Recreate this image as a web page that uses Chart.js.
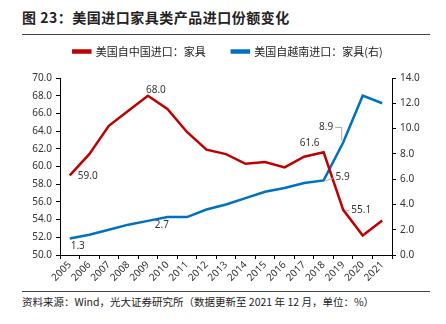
<!DOCTYPE html>
<html>
<head>
<meta charset="utf-8">
<script src="https://cdn.jsdelivr.net/npm/chart.js@4.4.0/dist/chart.umd.min.js"></script>
<style>
  body { margin: 0; width: 446px; height: 324px; background: #fff; position: relative; overflow: hidden;
         font-family: "Noto Sans CJK SC", sans-serif; color: #222; }
  #title { position: absolute; left: 22px; top: 7px; font-size: 14px; font-weight: bold; white-space: nowrap; letter-spacing: 0.5px; }
  #rule1 { position: absolute; left: 22px; top: 34px; width: 408px; border-top: 1px solid #444; }
  #wrap { position: absolute; left: 0; top: 20px; width: 446px; height: 270px; }
  #rule2 { position: absolute; left: 22px; top: 291px; width: 408px; border-top: 1px solid #444; }
  #src { position: absolute; left: 22px; top: 294px; font-size: 10.5px; white-space: nowrap; }
</style>
</head>
<body>
<div id="title">图 23：美国进口家具类产品进口份额变化</div>
<div id="rule1"></div>
<div id="wrap"><canvas id="myChart" width="446" height="270"></canvas></div>
<div id="rule2"></div>
<div id="src">资料来源：Wind，光大证券研究所（数据更新至 2021 年 12 月，单位：%）</div>

<script>
const years = ['2005', '2006', '2007', '2008', '2009', '2010', '2011', '2012', '2013',
               '2014', '2015', '2016', '2017', '2018', '2019', '2020', '2021'];
// 美国自中国进口家具份额（左轴）
const chinaShare = [59.0, 61.4, 64.6, 66.3, 68.0, 66.5, 63.9, 61.9, 61.4,
                    60.3, 60.5, 59.9, 61.1, 61.6, 55.1, 52.2, 53.9];
// 美国自越南进口家具份额（右轴）
const vietnamShare = [1.3, 1.6, 2.0, 2.4, 2.7, 3.0, 3.0, 3.6, 4.0,
                      4.5, 5.0, 5.3, 5.7, 5.9, 8.9, 12.6, 12.0];
const leftRange = [50, 70, 2];
const rightRange = [0, 14, 2];

const RED = '#C00000';
const BLUE = '#0070C0';
const TICK_FONT = { family: 'Noto Sans', size: 10 };

// 数据标签：dataset, 点序号, 文字中心偏移, 是否带引线
const pointLabels = [
  { ds: 0, i: 0, dx: 18, dy: 1 },
  { ds: 0, i: 4, dx: 8, dy: -6 },
  { ds: 0, i: 13, dx: -14, dy: -9 },
  { ds: 0, i: 14, dx: 18, dy: 0, leader: 'h' },
  { ds: 1, i: 0, dx: 8, dy: 8 },
  { ds: 1, i: 4, dx: 14, dy: 4 },
  { ds: 1, i: 13, dx: 19, dy: -3, leader: 'h' },
  { ds: 1, i: 14, dx: -17, dy: -15, leader: 'bracket' }
];

const labelPlugin = {
  id: 'pointLabels',
  afterDatasetsDraw(chart) {
    const ctx = chart.ctx;
    ctx.save();
    ctx.font = '10px "Noto Sans"';
    ctx.fillStyle = '#333';
    ctx.textAlign = 'center';
    ctx.textBaseline = 'middle';
    pointLabels.forEach(l => {
      const pt = chart.getDatasetMeta(l.ds).data[l.i];
      const text = chart.data.datasets[l.ds].data[l.i].toFixed(1);
      const tx = pt.x + l.dx, ty = pt.y + l.dy;
      const w = ctx.measureText(text).width;
      if (l.leader) {
        ctx.strokeStyle = '#aaa';
        ctx.lineWidth = 1;
        ctx.beginPath();
        if (l.leader === 'h') {
          ctx.moveTo(pt.x + 2, pt.y + 0.5);
          ctx.lineTo(tx - w / 2 - 2, ty + 0.5);
        } else {
          ctx.moveTo(pt.x - 1.5, pt.y - 2);
          ctx.lineTo(pt.x - 1.5, ty);
          ctx.lineTo(tx + w / 2 + 2, ty);
        }
        ctx.stroke();
      }
      ctx.fillText(text, tx, ty);
    });
    ctx.restore();
  }
};

// 图例高度固定，使绘图区从固定位置开始；图例整体稍向右移
const legendLayout = {
  id: 'legendLayout',
  beforeInit(chart) {
    const fit = chart.legend.fit;
    chart.legend.fit = function () {
      fit.bind(chart.legend)();
      this.height = 58;
    };
  },
  afterLayout(chart) {
    chart.legend.left += 5;
    chart.legend.right += 5;
  }
};

const ctx = document.getElementById('myChart').getContext('2d');
const myChart = new Chart(ctx, {
  type: 'line',
  data: {
    labels: years,
    datasets: [{
      label: '美国自中国进口：家具',
      data: chinaShare,
      borderColor: RED,
      backgroundColor: RED,
      borderWidth: 2.5,
      pointRadius: 0,
      tension: 0,
      yAxisID: 'y'
    }, {
      label: '美国自越南进口：家具(右)',
      data: vietnamShare,
      borderColor: BLUE,
      backgroundColor: BLUE,
      borderWidth: 2.5,
      pointRadius: 0,
      tension: 0,
      yAxisID: 'y1'
    }]
  },
  options: {
    responsive: false,
    animation: false,
    layout: { padding: 0 },
    plugins: {
      tooltip: { enabled: false },
      legend: {
        position: 'top',
        labels: {
          boxWidth: 17,
          boxHeight: 2,
          padding: 26,
          color: '#222',
          font: { family: 'Noto Sans CJK SC', size: 11 }
        }
      }
    },
    scales: {
      x: {
        offset: true,
        grid: { offset: true, drawOnChartArea: false, color: '#000', tickLength: 4 },
        border: { color: '#000', width: 1 },
        ticks: { color: '#333', font: TICK_FONT, minRotation: 45, maxRotation: 45, padding: 0, autoSkip: false },
        afterFit(scale) { scale.height = 35; }
      },
      y: {
        position: 'left',
        min: leftRange[0],
        max: leftRange[1],
        grid: { drawOnChartArea: false, color: '#000', tickLength: 4 },
        border: { color: '#000', width: 1 },
        ticks: { stepSize: leftRange[2], color: '#333', font: TICK_FONT, padding: 4,
                 callback: v => v.toFixed(1) },
        afterFit(scale) { scale.width = 60; }
      },
      y1: {
        position: 'right',
        min: rightRange[0],
        max: rightRange[1],
        grid: { drawOnChartArea: false, color: '#000', tickLength: 4 },
        border: { color: '#000', width: 1 },
        ticks: { stepSize: rightRange[2], color: '#333', font: TICK_FONT, padding: 4,
                 callback: v => v.toFixed(1) },
        afterFit(scale) { scale.width = 54; }
      }
    }
  },
  plugins: [labelPlugin, legendLayout]
});
</script>
</body>
</html>
